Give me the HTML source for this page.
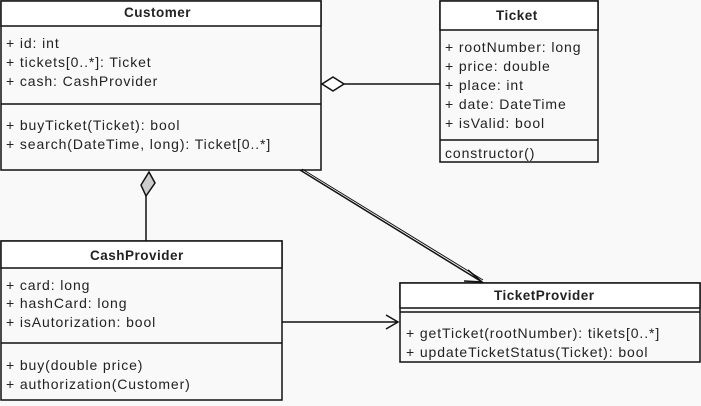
<!DOCTYPE html>
<html><head><meta charset="utf-8"><style>
body{margin:0;width:701px;height:406px;background:#f9f9f9;overflow:hidden;position:relative;font-family:"Liberation Sans",sans-serif;color:#222}
.t{position:absolute;font-size:14px;letter-spacing:0.9px;white-space:nowrap;line-height:1}
.h{font-weight:bold;font-size:13.5px;letter-spacing:0.5px}
</style></head><body>
<svg width="701" height="406" style="position:absolute;left:0;top:0" fill="none" stroke="#111" stroke-width="1.5">
<rect x="1" y="1" width="320" height="169" fill="#f9f9f9"/>
<rect x="1" y="1" width="320" height="25" fill="#fff"/>
<line x1="1" y1="104" x2="321" y2="104"/>
<rect x="440" y="1" width="158" height="161" fill="#f9f9f9"/>
<rect x="440" y="1" width="158" height="29" fill="#fff"/>
<line x1="440" y1="140" x2="598" y2="140"/>
<rect x="1" y="241" width="281" height="159" fill="#f9f9f9"/>
<rect x="1" y="241" width="281" height="27" fill="#fff"/>
<line x1="1" y1="343" x2="282" y2="343"/>
<rect x="400" y="283" width="300" height="79" fill="#f9f9f9"/>
<rect x="400" y="283" width="300" height="25" fill="#fff"/>
<line x1="400" y1="312" x2="700" y2="312"/>
<line x1="344" y1="84" x2="440" y2="84"/>
<polygon points="322,84 333,77 344,84 333,91" fill="#fff"/>
<line x1="146" y1="196" x2="146" y2="241"/>
<polygon points="149,172 155,183 146,196 141,185" fill="#ccc"/>
<line x1="300" y1="170" x2="482" y2="282"/>
<line x1="302" y1="169" x2="483" y2="280" stroke-width="1"/>
<polyline points="468,270 482,282 464,281"/>
<line x1="282" y1="322" x2="398" y2="322"/>
<polyline points="386,315 398,322 386,329"/>
</svg>
<div class="t h" style="left:124px;top:6px">Customer</div>
<div class="t" style="left:6px;top:36px">+ id: int</div>
<div class="t" style="left:6px;top:55px">+ tickets[0..*]: Ticket</div>
<div class="t" style="left:6px;top:74px">+ cash: CashProvider</div>
<div class="t" style="left:6px;top:118px">+ buyTicket(Ticket): bool</div>
<div class="t" style="left:6px;top:137px">+ search(DateTime, long): Ticket[0..*]</div>
<div class="t h" style="left:496px;top:9px">Ticket</div>
<div class="t" style="left:445px;top:40px">+ rootNumber: long</div>
<div class="t" style="left:445px;top:59px">+ price: double</div>
<div class="t" style="left:445px;top:78px">+ place: int</div>
<div class="t" style="left:445px;top:97px">+ date: DateTime</div>
<div class="t" style="left:445px;top:116px">+ isValid: bool</div>
<div class="t" style="left:445px;top:146px">constructor()</div>
<div class="t h" style="left:90px;top:249px">CashProvider</div>
<div class="t" style="left:6px;top:278px">+ card: long</div>
<div class="t" style="left:6px;top:296px">+ hashCard: long</div>
<div class="t" style="left:6px;top:315px">+ isAutorization: bool</div>
<div class="t" style="left:6px;top:358px">+ buy(double price)</div>
<div class="t" style="left:6px;top:377px">+ authorization(Customer)</div>
<div class="t h" style="left:494px;top:289px">TicketProvider</div>
<div class="t" style="left:406px;top:326px">+ getTicket(rootNumber): tikets[0..*]</div>
<div class="t" style="left:406px;top:345px">+ updateTicketStatus(Ticket): bool</div>
</body></html>
